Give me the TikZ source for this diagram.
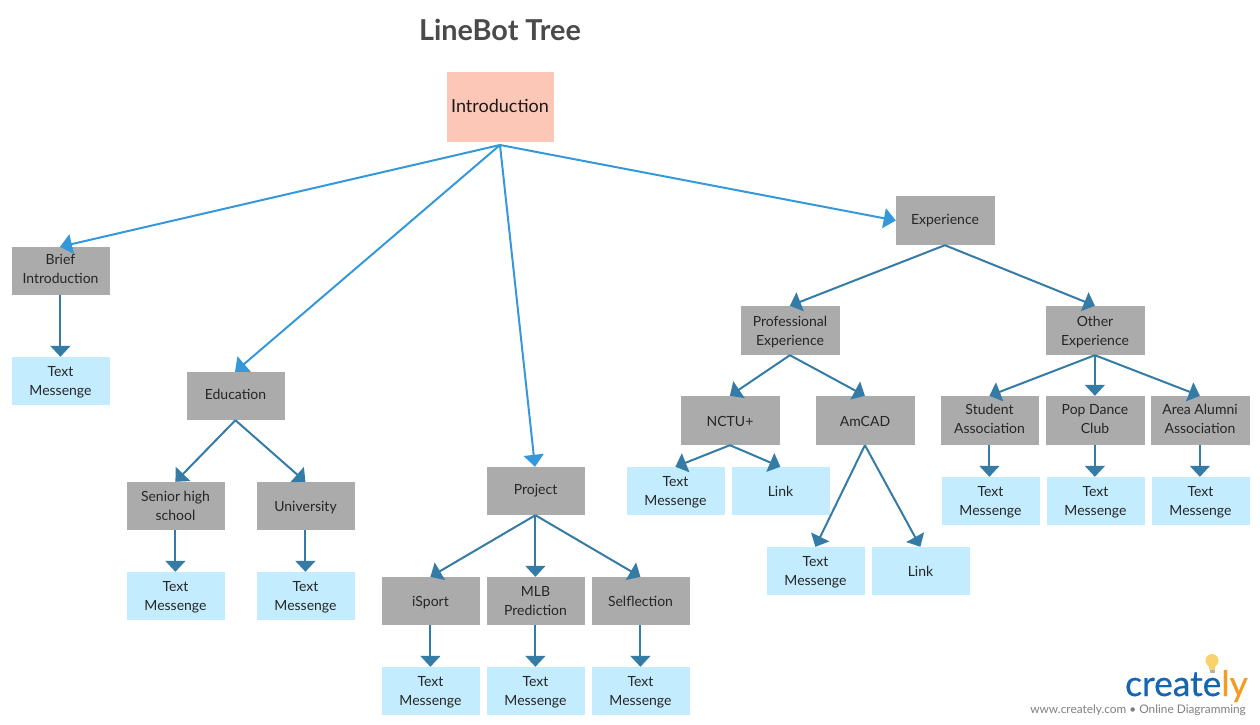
\documentclass[tikz,border=0pt]{standalone}
\usepackage{fontspec}
\setmainfont{Lato}
\newfontfamily\logofont[FakeBold=0.6]{Lato}
\usetikzlibrary{arrows.meta}
\definecolor{boxgray}{HTML}{ABABAB}
\definecolor{msgblue}{HTML}{C3ECFF}
\definecolor{introfill}{HTML}{FCC7B6}
\definecolor{toparrow}{HTML}{3498DB}
\definecolor{subarrow}{HTML}{347BA6}
\definecolor{inktext}{HTML}{262626}
\definecolor{titletext}{HTML}{4A4A4A}
\definecolor{logoblue}{HTML}{1565B0}
\definecolor{logoorange}{HTML}{F59A23}
\definecolor{bulb}{HTML}{F8D26A}
\definecolor{tagline}{HTML}{7F7F7F}
% #1 = how far the text sits below the box centre
\newcommand{\lift}[2]{\kern-.5bp\raisebox{-#1bp}[\height][\depth]{\begin{tabular}{@{}c@{}}#2\end{tabular}}\kern.5bp}
\tikzset{
  basebox/.style={rectangle,draw=none,minimum width=98bp,minimum height=48bp,inner sep=0pt,text=inktext,
    font=\fontsize{14bp}{19bp}\selectfont},
  graybox/.style={basebox,fill=boxgray},
  msgbox/.style={basebox,fill=msgblue},
  tallbox/.style={minimum width=99bp,minimum height=49bp},
  toparrowline/.style={draw=toparrow,line width=2bp,-{Triangle[length=12bp,width=20bp]}},
  subarrowline/.style={draw=subarrow,line width=2bp,-{Triangle[length=11bp,width=20bp]}},
}
\begin{document}
\begin{tikzpicture}[x=1bp,y=-1bp]
\useasboundingbox (0,0) rectangle (1260,725);
\node[text=titletext,font=\bfseries\fontsize{28.8bp}{30bp}\selectfont] (title) at (500,29.5) {LineBot Tree};
\node[basebox,fill=introfill,minimum width=107bp,minimum height=70bp,text=black!90,font=\fontsize{18bp}{22bp}\selectfont] (intro) at (500.5,107) {\lift{1}{Introduction}};
\coordinate (introfoot) at (500,145);

\node[graybox] (brief) at (61,271) {\kern-.5bp\raisebox{1bp}[\height][\depth]{\begin{tabular}{@{}c@{}}Brief\\Introduction\end{tabular}}\kern.5bp};
\node[msgbox] (brieft) at (61,381) {\lift{1}{Text\\Messenge}};
\node[graybox] (edu) at (236,396) {\lift{0}{Education}};
\node[graybox] (senior) at (176,506) {\lift{1}{Senior high\\school}};
\node[graybox] (univ) at (306,506) {\lift{2}{University}};
\node[msgbox] (seniort) at (176,596) {\lift{1}{Text\\Messenge}};
\node[msgbox] (univt) at (306,596) {\lift{1}{Text\\Messenge}};
\node[graybox] (proj) at (536,491) {\lift{0}{Project}};
\node[graybox] (isport) at (431,601) {\lift{2}{iSport}};
\node[graybox] (mlb) at (536,601) {\lift{1}{MLB\\Prediction}};
\node[graybox] (self) at (641,601) {\lift{2}{Selflection}};
\node[msgbox] (isportt) at (431,691) {\lift{1}{Text\\Messenge}};
\node[msgbox] (mlbt) at (536,691) {\lift{1}{Text\\Messenge}};
\node[msgbox] (selft) at (641,691) {\lift{1}{Text\\Messenge}};
\node[graybox,tallbox] (exp) at (945.5,220.5) {\lift{0}{Experience}};
\node[graybox,tallbox] (prof) at (790.5,330.5) {\lift{2}{Professional\\Experience}};
\node[graybox,tallbox] (other) at (1095.5,330.5) {\lift{2}{Other\\Experience}};
\node[graybox,tallbox] (nctu) at (730.5,420.5) {\lift{2}{NCTU+}};
\node[graybox,tallbox] (amcad) at (865.5,420.5) {\lift{2}{AmCAD}};
\node[msgbox] (nctut) at (676,491) {\lift{1}{Text\\Messenge}};
\node[msgbox] (nctul) at (781,491) {\lift{2}{Link}};
\node[msgbox] (amcadt) at (816,571) {\lift{1}{Text\\Messenge}};
\node[msgbox] (amcadl) at (921,571) {\lift{2}{Link}};
\node[graybox,minimum height=49bp] (student) at (990,420.5) {\lift{0}{Student\\Association}};
\node[graybox,tallbox] (pop) at (1095.5,420.5) {\lift{0}{Pop Dance\\Club}};
\node[graybox,tallbox] (area) at (1200.5,420.5) {\lift{0}{Area Alumni\\Association}};
\node[msgbox] (studentt) at (991,501) {\lift{1}{Text\\Messenge}};
\node[msgbox] (popt) at (1096,501) {\lift{1}{Text\\Messenge}};
\node[msgbox] (areat) at (1201,501) {\lift{1}{Text\\Messenge}};

\draw[toparrowline] (introfoot) -- ([xshift=-1bp]brief.north);
\draw[toparrowline] (introfoot) -- ([xshift=-1bp]edu.north);
\draw[toparrowline] (introfoot) -- ([xshift=-1bp]proj.north);
\draw[toparrowline] (introfoot) -- (exp.west);
\foreach \a/\b in {edu/senior,edu/univ,proj/isport,proj/self,exp/prof,exp/other,prof/nctu,prof/amcad,nctu/nctut,nctu/nctul,amcad/amcadt,amcad/amcadl,other/student,other/area}
  \draw[subarrowline] ([xshift=-.6bp]\a.south) -- ([xshift=-.6bp]\b.north);
\foreach \a/\b in {brief/brieft,senior/seniort,univ/univt,proj/mlb,isport/isportt,mlb/mlbt,self/selft,other/pop,student/studentt,pop/popt,area/areat}
  \draw[subarrowline] ([xshift=-.6bp]\a.south) -- ([xshift=-.6bp]\a.south |- \b.north);

% logo
\fill[bulb] (1212,660.5) circle (6.5bp);
\fill[bulb] (1208,664) -- (1216,664) -- (1214.5,670) -- (1209.5,670) -- cycle;
\fill[gray!60] (1209.5,670) rectangle (1214.5,672.5);
\node[anchor=base east,inner sep=0pt,font=\logofont\fontsize{35.3bp}{36bp}\selectfont] (logo) at (1248,696) {\textcolor{logoblue}{create}\textcolor{logoorange}{ly}};
\node[anchor=base east,inner sep=0pt,text=tagline,font=\fontsize{11.85bp}{14bp}\selectfont] (tag) at (1246,713) {www.creately.com • Online Diagramming};
\end{tikzpicture}
\end{document}
